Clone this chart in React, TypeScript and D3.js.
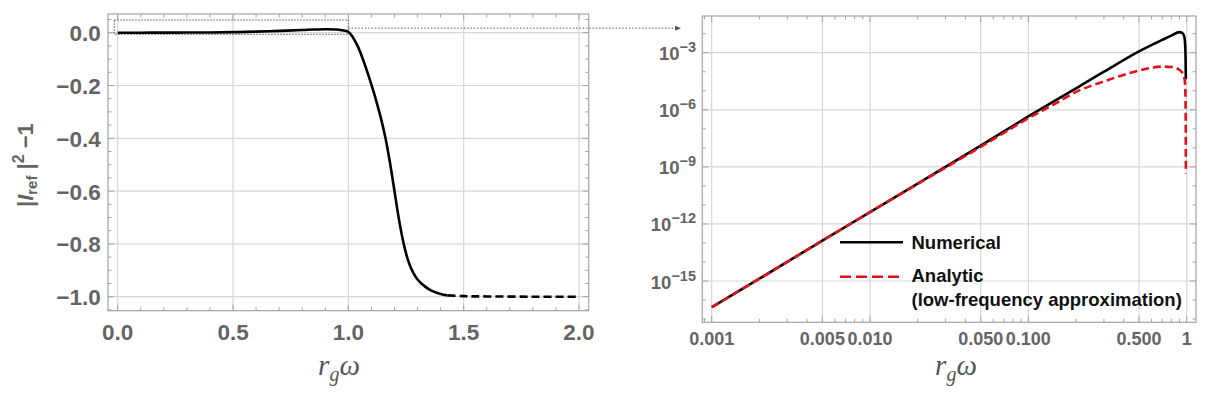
import React from "react";
import * as d3 from "d3";

// ---------- data ----------
const leftSolidX = [0, 0.1, 0.2, 0.3, 0.4, 0.5, 0.6, 0.7, 0.8, 0.85, 0.9, 0.95, 0.98, 1.0, 1.02, 1.04, 1.06, 1.08, 1.1, 1.12, 1.14, 1.16, 1.18, 1.2, 1.22, 1.24, 1.26, 1.28, 1.3, 1.33, 1.36, 1.4, 1.43];
const leftSolidY = [0, 0, 0.0003, 0.0006, 0.001, 0.002, 0.004, 0.007, 0.01, 0.012, 0.013, 0.012, 0.008, 0.003, -0.018, -0.05, -0.093, -0.143, -0.197, -0.255, -0.32, -0.395, -0.49, -0.6, -0.71, -0.8, -0.865, -0.907, -0.935, -0.96, -0.977, -0.99, -0.995];
const leftDashX = [1.43, 1.5, 1.6, 1.8, 2.0];
const leftDashY = [-0.995, -0.998, -0.999, -1.0, -1.0];
const leftXTicks = [0, 0.5, 1.0, 1.5, 2.0];
const leftXTickLabels = ["0.0", "0.5", "1.0", "1.5", "2.0"];
const leftYTicks = [0, -0.2, -0.4, -0.6, -0.8, -1.0];
const leftYTickLabels = ["0.0", "\u22120.2", "\u22120.4", "\u22120.6", "\u22120.8", "\u22121.0"];
const zoomBoxX = [-0.015, 1.0];
const zoomBoxY = [-0.006, 0.048];

const numX = [0.001, 0.002, 0.005, 0.01, 0.02, 0.05, 0.1, 0.2, 0.3, 0.5, 0.7, 0.8, 0.9, 0.94, 0.965, 0.978, 0.984, 0.987];
const numLogY = [-16.38, -14.88, -12.88, -11.38, -9.88, -7.88, -6.35, -4.87, -4.0, -2.93, -2.33, -2.1, -1.92, -1.97, -2.15, -2.6, -3.3, -4.4];
const anaX = [0.001, 0.002, 0.005, 0.01, 0.02, 0.05, 0.1, 0.15, 0.2, 0.3, 0.5, 0.7, 0.8, 0.9, 0.95, 0.97, 0.978, 0.983, 0.986, 0.988];
const anaLogY = [-16.38, -14.88, -12.88, -11.38, -9.9, -7.95, -6.45, -5.65, -5.06, -4.51, -3.94, -3.73, -3.75, -3.9, -4.15, -4.4, -4.8, -5.5, -7.0, -9.35];
const rightXTicks = [0.001, 0.005, 0.01, 0.05, 0.1, 0.5, 1];
const rightXTickLabels = ["0.001", "0.005", "0.010", "0.050", "0.100", "0.500", "1"];
const rightYExponents = [-3, -6, -9, -12, -15];
const legendLabels = ["Numerical", "Analytic", "(low-frequency approximation)"];

// ---------- styles ----------
const FRAME = "#a3a3a3";
const GRID = "#d6d6d6";
const LABEL = "#646464";
const SANS = "'Liberation Sans', Arial, sans-serif";
const SERIF = "'Liberation Serif', 'Times New Roman', serif";

export default function App() {
  // Left panel scales
  const lx = d3.scaleLinear().domain([0, 2]).range([117.7, 579]);
  const ly = d3.scaleLinear().domain([0, -1]).range([32.7, 296.7]);
  const lf = { x0: 108, x1: 588.7, y0: 14, y1: 310.7 };

  // Right panel scales
  const rx = d3.scaleLog().domain([0.001, 1]).range([711.7, 1186.7]);
  const ry = d3.scaleLog().domain([1e-3, 1e-15]).range([52.7, 281]);
  const rf = { x0: 702.3, x1: 1196, y0: 16, y1: 322.3 };

  const lineL = d3.line<[number, number]>().x((d) => lx(d[0])).y((d) => ly(d[1])).curve(d3.curveCatmullRom.alpha(0.5));
  const lineR = d3.line<[number, number]>().x((d) => rx(d[0])).y((d) => ry(Math.pow(10, d[1]))).curve(d3.curveMonotoneX);

  const solidL = lineL(leftSolidX.map((x, i) => [x, leftSolidY[i]]));
  const dashL = lineL(leftDashX.map((x, i) => [x, leftDashY[i]]));
  const numPath = lineR(numX.map((x, i) => [x, numLogY[i]]));
  const anaPath = lineR(anaX.map((x, i) => [x, anaLogY[i]]));

  // left minor ticks
  const lxMinor = d3.range(0, 21).map((i) => i * 0.1);
  const lyMinor = d3.range(-21, 2).map((i) => i * 0.05);

  // right minor ticks
  const rxMinor: number[] = [];
  for (let e = -4; e <= 0; e++) for (let k = 1; k <= 9; k++) {
    const v = k * Math.pow(10, e);
    const px = rx(v);
    if (px >= rf.x0 && px <= rf.x1) rxMinor.push(v);
  }
  const ryMinor: number[] = [];
  for (let e = -18; e <= 0; e++) {
    const py = ry(Math.pow(10, e));
    if (py >= rf.y0 + 1 && py <= rf.y1 - 1) ryMinor.push(e);
  }

  const bx = [lx(zoomBoxX[0]), lx(zoomBoxX[1])];
  const by = [ly(zoomBoxY[1]), ly(zoomBoxY[0])];
  const arrowY = (by[0] + by[1]) / 2 + 1;

  return (
    <svg width={1222} height={393} style={{ position: "absolute", left: 0, top: 0, background: "#fff" }}>
      <rect x={0} y={0} width={1222} height={393} fill="#fff" />
      {/* ---------- LEFT PANEL ---------- */}
      <g>
        {leftXTicks.map((t) => (
          <line key={"lgx" + t} x1={lx(t)} x2={lx(t)} y1={lf.y0} y2={lf.y1} stroke={GRID} strokeWidth={1.2} />
        ))}
        {leftYTicks.map((t) => (
          <line key={"lgy" + t} x1={lf.x0} x2={lf.x1} y1={ly(t)} y2={ly(t)} stroke={GRID} strokeWidth={1.2} />
        ))}
        {lxMinor.map((t, i) => {
          const major = i % 5 === 0;
          const L = major ? 6 : 3.5;
          return (
            <g key={"lxm" + i}>
              <line x1={lx(t)} x2={lx(t)} y1={lf.y1} y2={lf.y1 - L} stroke={FRAME} strokeWidth={1} />
              <line x1={lx(t)} x2={lx(t)} y1={lf.y0} y2={lf.y0 + L} stroke={FRAME} strokeWidth={1} />
            </g>
          );
        })}
        {lyMinor.map((t, i) => {
          const major = Math.abs(Math.round(t * 5) - t * 5) < 1e-6;
          const L = major ? 6 : 3.5;
          const y = ly(t);
          if (y < lf.y0 || y > lf.y1) return null;
          return (
            <g key={"lym" + i}>
              <line x1={lf.x0} x2={lf.x0 + L} y1={y} y2={y} stroke={FRAME} strokeWidth={1} />
              <line x1={lf.x1} x2={lf.x1 - L} y1={y} y2={y} stroke={FRAME} strokeWidth={1} />
            </g>
          );
        })}
        <rect x={lf.x0} y={lf.y0} width={lf.x1 - lf.x0} height={lf.y1 - lf.y0} fill="none" stroke={FRAME} strokeWidth={1.2} />
        {leftXTicks.map((t, i) => (
          <text key={"lxl" + t} x={lx(t)} y={339.5} textAnchor="middle" fontFamily={SANS} fontWeight="bold" fontSize={22.5} fill={LABEL}>
            {leftXTickLabels[i]}
          </text>
        ))}
        {leftYTicks.map((t, i) => (
          <text key={"lyl" + t} x={100.7} y={ly(t) + 8.5} textAnchor="end" fontFamily={SANS} fontWeight="bold" fontSize={22.5} fill={LABEL}>
            {leftYTickLabels[i]}
          </text>
        ))}
        {/* zoom box + arrow */}
        <rect x={bx[0]} y={by[0]} width={bx[1] - bx[0]} height={by[1] - by[0]} fill="none" stroke="#444" strokeWidth={0.9} strokeDasharray="1.5,1.5" />
        <line x1={bx[1]} x2={675} y1={arrowY} y2={arrowY} stroke="#444" strokeWidth={0.9} strokeDasharray="1.5,1.8" />
        <path d={`M675,${arrowY - 2.5} L681,${arrowY} L675,${arrowY + 2.5} Z`} fill="#555" />
        {/* curves */}
        <path d={solidL || ""} fill="none" stroke="#000" strokeWidth={2.6} />
        <path d={dashL || ""} fill="none" stroke="#000" strokeWidth={2.6} strokeDasharray="8,4" />
        {/* axis labels */}
        <text x={339} y={375} textAnchor="middle" fontFamily={SERIF} fontStyle="italic" fontSize={29} fill="#555">
          <tspan>r</tspan>
          <tspan fontSize={20} dy={6}>g</tspan>
          <tspan dy={-6}>ω</tspan>
        </text>
        <text transform="translate(33,207) rotate(-90)" textAnchor="start" fontFamily={SANS} fontWeight="bold" fontSize={22} fill={LABEL}>
          <tspan>|</tspan>
          <tspan fontStyle="italic">I</tspan>
          <tspan fontSize={15} dy={4}>ref</tspan>
          <tspan dy={-4}>{" |"}</tspan>
          <tspan fontSize={16} dy={-9}>{"2"}</tspan>
          <tspan dy={9}>{" \u22121"}</tspan>
        </text>
      </g>

      {/* ---------- RIGHT PANEL ---------- */}
      <g>
        {rightXTicks.map((t) => (
          <line key={"rgx" + t} x1={rx(t)} x2={rx(t)} y1={rf.y0} y2={rf.y1} stroke={GRID} strokeWidth={1.2} />
        ))}
        {rightYExponents.map((e) => (
          <line key={"rgy" + e} x1={rf.x0} x2={rf.x1} y1={ry(Math.pow(10, e))} y2={ry(Math.pow(10, e))} stroke={GRID} strokeWidth={1.2} />
        ))}
        {rxMinor.map((v, i) => {
          const major = rightXTicks.some((t) => Math.abs(t - v) / t < 1e-6);
          const L = major ? 6 : 3.5;
          return (
            <g key={"rxm" + i}>
              <line x1={rx(v)} x2={rx(v)} y1={rf.y1} y2={rf.y1 - L} stroke={FRAME} strokeWidth={1} />
              <line x1={rx(v)} x2={rx(v)} y1={rf.y0} y2={rf.y0 + L} stroke={FRAME} strokeWidth={1} />
            </g>
          );
        })}
        {ryMinor.map((e) => {
          const major = rightYExponents.includes(e);
          const L = major ? 6 : 3.5;
          const y = ry(Math.pow(10, e));
          return (
            <g key={"rym" + e}>
              <line x1={rf.x0} x2={rf.x0 + L} y1={y} y2={y} stroke={FRAME} strokeWidth={1} />
              <line x1={rf.x1} x2={rf.x1 - L} y1={y} y2={y} stroke={FRAME} strokeWidth={1} />
            </g>
          );
        })}
        <rect x={rf.x0} y={rf.y0} width={rf.x1 - rf.x0} height={rf.y1 - rf.y0} fill="none" stroke={FRAME} strokeWidth={1.2} />
        {rightXTicks.map((t, i) => (
          <text key={"rxl" + t} x={rx(t)} y={345} textAnchor="middle" fontFamily={SANS} fontWeight="bold" fontSize={18} fill={LABEL}>
            {rightXTickLabels[i]}
          </text>
        ))}
        {rightYExponents.map((e) => (
          <text key={"ryl" + e} x={696} y={ry(Math.pow(10, e)) + 7.5} textAnchor="end" fontFamily={SANS} fontWeight="bold" fontSize={18.5} fill={LABEL}>
            <tspan>10</tspan>
            <tspan fontSize={14.5} dy={-8}>{"\u2212" + Math.abs(e)}</tspan>
          </text>
        ))}
        {/* curves */}
        <path d={numPath || ""} fill="none" stroke="#000" strokeWidth={2.6} strokeLinejoin="round" />
        <path d={anaPath || ""} fill="none" stroke="#e3111b" strokeWidth={2.6} strokeDasharray="8,4" />
        {/* legend */}
        <line x1={840} x2={903} y1={242.3} y2={242.3} stroke="#000" strokeWidth={2.6} />
        <line x1={840} x2={903} y1={276.7} y2={276.7} stroke="#e3111b" strokeWidth={2.6} strokeDasharray="11,5" />
        <text x={911.5} y={248.5} fontFamily={SANS} fontWeight="bold" fontSize={18.5} fill="#111">{legendLabels[0]}</text>
        <text x={911.5} y={281.7} fontFamily={SANS} fontWeight="bold" fontSize={18.5} fill="#111">{legendLabels[1]}</text>
        <text x={911.5} y={306} fontFamily={SANS} fontWeight="bold" fontSize={18.5} fill="#111">{legendLabels[2]}</text>
        <text x={956} y={375} textAnchor="middle" fontFamily={SERIF} fontStyle="italic" fontSize={29} fill="#555">
          <tspan>r</tspan>
          <tspan fontSize={20} dy={6}>g</tspan>
          <tspan dy={-6}>ω</tspan>
        </text>
      </g>
    </svg>
  );
}
